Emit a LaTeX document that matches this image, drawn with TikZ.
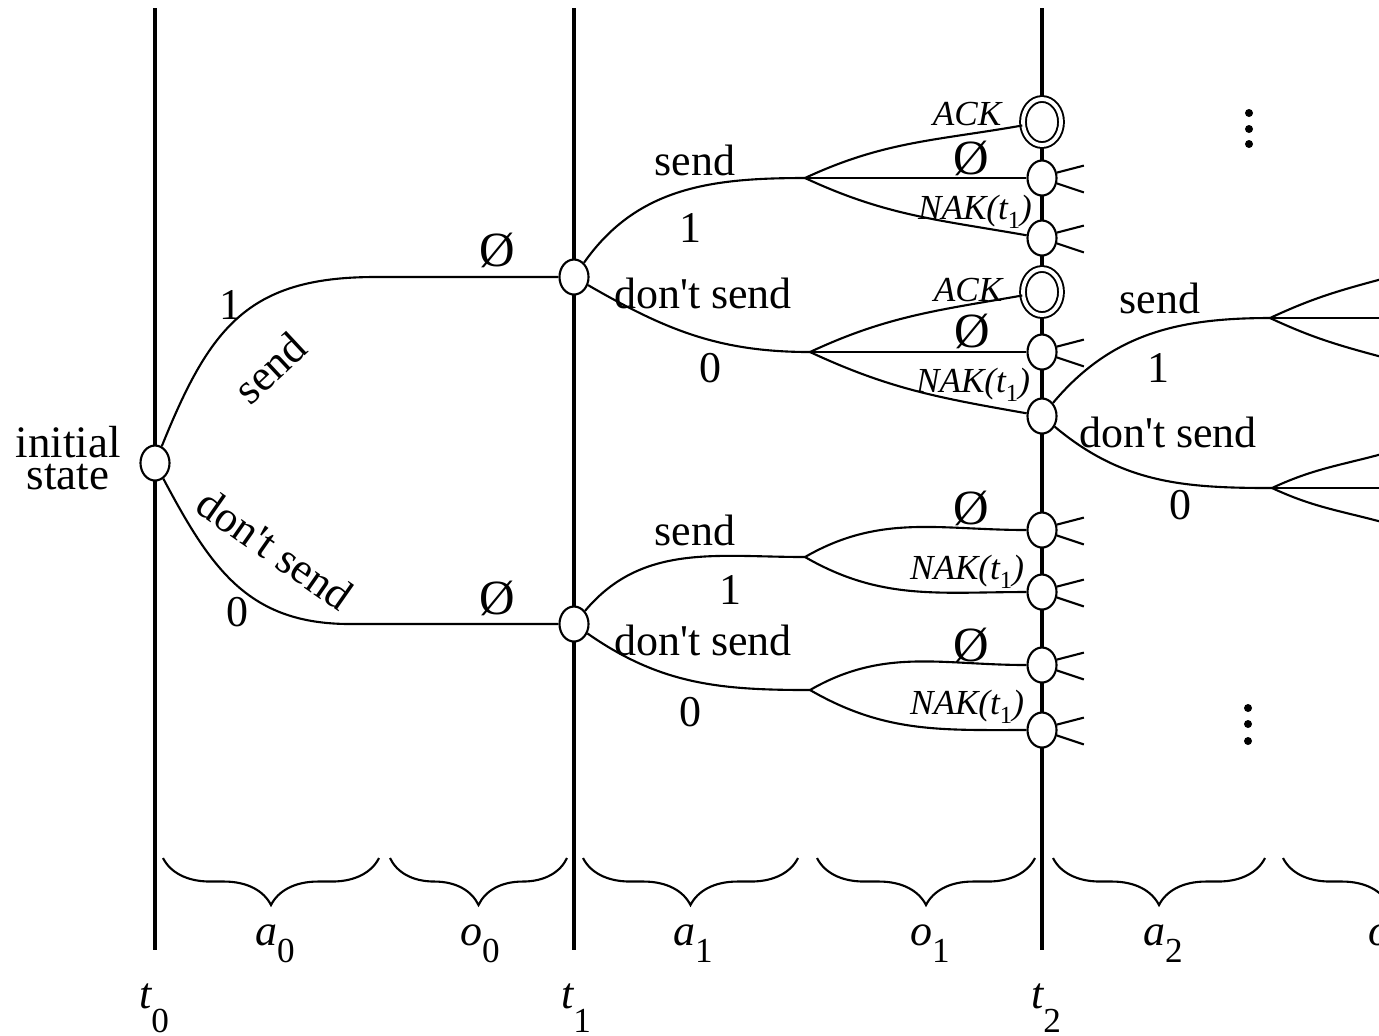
\documentclass[tikz,border=0pt]{standalone}
\usepackage{fontspec}
\setmainfont{Liberation Serif}
\usetikzlibrary{shapes.geometric,decorations.pathreplacing}
\newcommand\subl[3]{{\itshape #1}\raisebox{#3}{\fontsize{10}{10}\selectfont #2}}
\newcommand\nakt{NAK(\textit{t}\raisebox{-2.5pt}{\fontsize{7}{7}\selectfont\upshape 1})}
\newcommand\dsend{don\textquotesingle t send}
\begin{document}
\begin{tikzpicture}[x=0.01cm,y=0.01cm,
  lbl/.style={font=\fontsize{12.5}{14}\selectfont, inner sep=0pt},
  msg/.style={font=\fontsize{10}{12}\selectfont\itshape, inner sep=0pt},
  emp/.style={font=\fontsize{14}{16}\selectfont, inner sep=0pt},
  st/.style={ellipse, draw, fill=white, line width=0.6pt, minimum width=0.29cm, minimum height=0.35cm, inner sep=0pt},
  ack/.style={ellipse, draw, fill=white, double, double distance=1.1pt, line width=0.55pt, minimum width=0.38cm, minimum height=0.46cm, inner sep=0pt},
  edge/.style={line width=0.6pt},
  tline/.style={line width=0.9pt},
  br/.style={decorate, decoration={brace, mirror, amplitude=0.47cm}, line width=0.6pt},
  stub/.style={line width=0.6pt}]
\useasboundingbox (0,-1035) rectangle (1379,0);
\clip (0,-1035) rectangle (1379,0);

% time lines
\coordinate (v0t) at (155,-8);  \coordinate (v0b) at (155,-950);
\coordinate (v1t) at (574,-8);  \coordinate (v1b) at (574,-950);
\coordinate (v2t) at (1042,-8); \coordinate (v2b) at (1042,-950);
\draw[tline] (v0t) -- (v0b);
\draw[tline] (v1t) -- (v1b);
\draw[tline] (v2t) -- (v2b);

% states
\node[st] (s0) at (155,-463) {};
\node[st] (n1) at (574,-277) {};
\node[st] (n2) at (574,-624) {};
\node[ack] (u1) at (1042,-122) {};
\node[st]  (u2) at (1042,-178) {};
\node[st]  (u3) at (1042,-238) {};
\node[ack] (u4) at (1042,-292) {};
\node[st]  (u5) at (1042,-352) {};
\node[st]  (u6) at (1042,-416) {};
\node[st]  (l1) at (1042,-530) {};
\node[st]  (l2) at (1042,-592) {};
\node[st]  (l3) at (1042,-665) {};
\node[st]  (l4) at (1042,-730) {};

% branch points
\coordinate (c1) at (375,-277);
\coordinate (c2) at (350,-624);
\coordinate (b1) at (805,-178);
\coordinate (b2) at (810,-352);
\coordinate (b3) at (805,-557);
\coordinate (b4) at (810,-690);
\coordinate (b5) at (1270,-318);
\coordinate (b6) at (1272,-488);
\coordinate (e1) at (1382,-279);
\coordinate (e2) at (1382,-318);
\coordinate (e3) at (1382,-357);
\coordinate (e4) at (1382,-454);
\coordinate (e5) at (1382,-488);
\coordinate (e6) at (1382,-522);

% edges
\draw[edge] (s0) to[out=68,in=180,looseness=1.2] (c1) -- (n1);
\draw[edge] (s0) to[out=-62,in=180,looseness=1.1] (c2) -- (n2);
\draw[edge] (n1) to[out=55,in=180] (b1);
\draw[edge] (n1) to[out=-30,in=180] (b2);
\draw[edge] (n2) to[out=50,in=180] (b3);
\draw[edge] (n2) to[out=-35,in=180] (b4);
\draw[edge] (b1) to[out=25,in=190] (u1);
\draw[edge] (b1) -- (u2);
\draw[edge] (b1) to[out=-25,in=170] (u3);
\draw[edge] (b2) to[out=25,in=190] (u4);
\draw[edge] (b2) -- (u5);
\draw[edge] (b2) to[out=-25,in=170] (u6);
\draw[edge] (b3) to[out=30,in=180] (l1);
\draw[edge] (b3) to[out=-30,in=180] (l2);
\draw[edge] (b4) to[out=30,in=180] (l3);
\draw[edge] (b4) to[out=-30,in=180] (l4);
\draw[edge] (u6) to[out=50,in=180] (b5);
\draw[edge] (u6) to[out=-40,in=180] (b6);
\draw[edge] (b5) to[out=25,in=195] (e1);
\draw[edge] (b5) -- (e2);
\draw[edge] (b5) to[out=-25,in=165] (e3);
\draw[edge] (b6) to[out=25,in=195] (e4);
\draw[edge] (b6) -- (e5);
\draw[edge] (b6) to[out=-25,in=165] (e6);

% stubs
\foreach \n in {u2,u3,u5,l1,l2,l3,l4}{
  \draw[stub] (\n.20) -- ++(27,7);
  \draw[stub] (\n.-20) -- ++(27,-9);
}

% labels
\node[lbl, align=center, font=\fontsize{12.8}{9.2}\selectfont] (init) at (68,-458) {initial\\state};
\node[lbl] (one0) at (230,-305) {1};
\node[lbl, rotate=43] (send0) at (270,-368) {send};
\node[emp] (emp0) at (497,-250) {\O};
\node[lbl, rotate=-35] (dsend0) at (275,-549) {\dsend};
\node[lbl] (zero0) at (237,-612) {0};
\node[emp] (emp1) at (497,-598) {\O};

\node[lbl] (send1) at (695,-160) {send};
\node[lbl] (one1) at (690,-228) {1};
\node[lbl] (dsend1) at (703,-293) {\dsend};
\node[lbl] (zero1) at (710,-368) {0};

\node[msg] (ack1) at (967,-114) {ACK};
\node[emp] (emp2) at (971,-158) {\O};
\node[msg] (nak1) at (975,-212) {\nakt};
\node[msg] (ack2) at (968,-290) {ACK};
\node[emp] (emp3) at (972,-331) {\O};
\node[msg] (nak2) at (973,-385) {\nakt};

\node[lbl] (send2) at (695,-530) {send};
\node[lbl] (one2) at (730,-590) {1};
\node[lbl] (dsend2) at (703,-640) {\dsend};
\node[lbl] (zero2) at (690,-712) {0};

\node[emp] (emp4) at (971,-508) {\O};
\node[msg] (nak3) at (967,-572) {\nakt};
\node[emp] (emp5) at (971,-645) {\O};
\node[msg] (nak4) at (967,-707) {\nakt};

\node[lbl] (send3) at (1160,-298) {send};
\node[lbl] (one3) at (1158,-368) {1};
\node[lbl] (dsend3) at (1168,-432) {\dsend};
\node[lbl] (zero3) at (1180,-505) {0};

% vertical dots
\foreach \y in {113,129,144} \fill (1249,-\y) circle (4);
\foreach \y in {708,724,741} \fill (1248,-\y) circle (4);

% braces
\coordinate (ba0) at (163,-858); \coordinate (ba0e) at (379,-858);
\coordinate (bo0) at (390,-858); \coordinate (bo0e) at (567,-858);
\coordinate (ba1) at (583,-858); \coordinate (ba1e) at (798,-858);
\coordinate (bo1) at (817,-858); \coordinate (bo1e) at (1035,-858);
\coordinate (ba2) at (1053,-858); \coordinate (ba2e) at (1265,-858);
\coordinate (bo2) at (1283,-858); \coordinate (bo2e) at (1495,-858);
\draw[br] (ba0) -- (ba0e);
\draw[br] (bo0) -- (bo0e);
\draw[br] (ba1) -- (ba1e);
\draw[br] (bo1) -- (bo1e);
\draw[br] (ba2) -- (ba2e);
\draw[br] (bo2) -- (bo2e);

\node[lbl, anchor=base] (la0) at (275,-945) {\subl{a}{0}{-5pt}};
\node[lbl, anchor=base] (lo0) at (480,-945) {\subl{o}{0}{-5pt}};
\node[lbl, anchor=base] (la1) at (693,-945) {\subl{a}{1}{-5pt}};
\node[lbl, anchor=base] (lo1) at (930,-945) {\subl{o}{1}{-5pt}};
\node[lbl, anchor=base] (la2) at (1163,-945) {\subl{a}{2}{-5pt}};
\node[lbl, anchor=base west] (lo2) at (1368,-945) {\subl{o}{2}{-5pt}};

\node[lbl, anchor=base] (lt0) at (154,-1008) {\subl{t}{0}{-7pt}};
\node[lbl, anchor=base] (lt1) at (576,-1008) {\subl{t}{1}{-7pt}};
\node[lbl, anchor=base] (lt2) at (1046,-1008) {\subl{t}{2}{-7pt}};
\end{tikzpicture}
\end{document}
